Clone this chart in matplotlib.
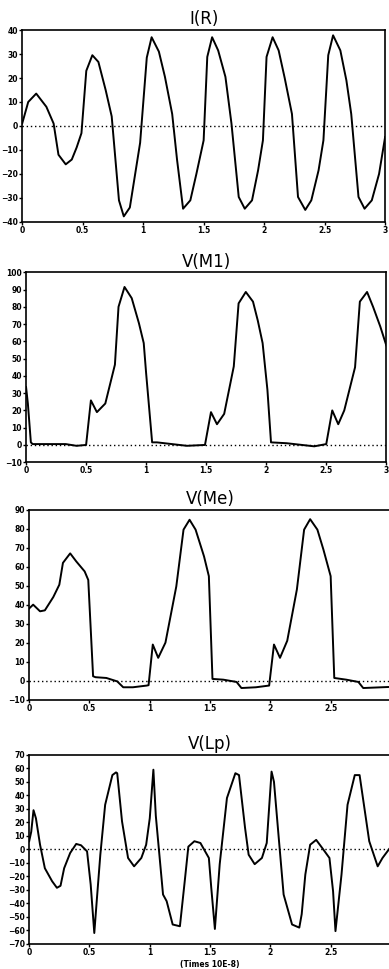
"""Four stacked transient waveforms: I(R), V(M1), V(Me), V(Lp)."""

import matplotlib
matplotlib.use("Agg")
import matplotlib.pyplot as plt

# time axis is in units of 10E-8 s
t_ir = [0, 0.05, 0.116, 0.2, 0.26, 0.30, 0.36, 0.41, 0.45, 0.49, 0.53, 0.58,
        0.63, 0.69, 0.74, 0.80, 0.84, 0.89, 0.975, 1.03, 1.07, 1.13, 1.18,
        1.24, 1.28, 1.33, 1.39, 1.44, 1.50, 1.53, 1.57, 1.62, 1.68, 1.73,
        1.79, 1.84, 1.90, 1.95, 1.99, 2.02, 2.07, 2.12, 2.17, 2.23, 2.28,
        2.34, 2.39, 2.45, 2.49, 2.53, 2.57, 2.63, 2.68, 2.72, 2.78, 2.83,
        2.89, 2.95, 3.0]
i_r = [1, 10, 13.5, 8, 1, -12, -16, -14, -9, -3, 23, 29.5,
       26.7, 15, 4, -31, -37.7, -34, -7, 28.5, 37, 31, 20.5,
       5, -14, -34.5, -31, -20, -6, 28.8, 37, 31.5, 20.5, 1,
       -29.6, -34.5, -31, -18.5, -6, 28.8, 37, 31.5, 20, 5, -29.6,
       -35, -31, -18.5, -6, 29.5, 37.8, 31.5, 19, 5, -29.6, -34.5,
       -31, -20, -4.6]

t_m1 = [0, 0.015, 0.04, 0.055, 0.33, 0.42, 0.50, 0.54, 0.59, 0.66, 0.74,
        0.77, 0.82, 0.88, 0.94, 0.98, 1.0, 1.05, 1.09, 1.34, 1.49, 1.54,
        1.59, 1.65, 1.73, 1.77, 1.83, 1.89, 1.93, 1.97, 2.01, 2.04, 2.17,
        2.40, 2.50, 2.55, 2.60, 2.65, 2.74, 2.78, 2.84, 2.89, 2.95, 3.0]
v_m1 = [33.5, 24, 1.5, 0.5, 0.5, -0.5, 0, 25.8, 19, 24, 46.5,
        80, 91.5, 85, 70.5, 59, 41.5, 1.5, 1.5, -0.5, 0, 19,
        12, 18, 45.5, 82, 88.6, 83, 72, 59, 32, 1.5, 1,
        -0.8, 0.5, 20, 12, 20, 45, 83, 88.6, 80, 68.6, 57.7]

t_me = [0, 0.033, 0.09, 0.13, 0.20, 0.25, 0.28, 0.34, 0.39, 0.46, 0.49,
        0.53, 0.55, 0.64, 0.73, 0.78, 0.86, 0.975, 0.99, 1.025, 1.07, 1.13,
        1.22, 1.28, 1.33, 1.38, 1.45, 1.49, 1.52, 1.61, 1.72, 1.76, 1.88,
        1.99, 2.03, 2.08, 2.14, 2.22, 2.28, 2.33, 2.39, 2.44, 2.50, 2.53,
        2.63, 2.73, 2.77, 3.0]
v_me = [38, 40, 36.5, 37, 44, 50.5, 62, 67, 62.8, 57.5, 53,
        2.3, 1.8, 1.4, -0.4, -3.5, -3.5, -2.6, -2.4, 19, 12, 20,
        49.6, 79.5, 84.7, 79.5, 65.4, 55, 0.9, 0.5, -0.7, -3.9, -3.5,
        -2.6, 19, 12, 21, 48, 79.5, 85, 79.5, 69, 55, 1.4,
        0.5, -0.7, -3.9, -3.3]

t_lp = [0, 0.017, 0.036, 0.056, 0.09, 0.13, 0.19, 0.23, 0.26, 0.29, 0.34,
        0.39, 0.43, 0.48, 0.51, 0.54, 0.56, 0.59, 0.63, 0.69, 0.72, 0.73,
        0.77, 0.82, 0.87, 0.93, 0.97, 1.0, 1.03, 1.05, 1.11, 1.14, 1.19,
        1.25, 1.29, 1.32, 1.37, 1.42, 1.49, 1.51, 1.54, 1.58, 1.64, 1.71,
        1.74, 1.79, 1.82, 1.87, 1.93, 1.97, 2.01, 2.03, 2.07, 2.11, 2.18,
        2.24, 2.26, 2.29, 2.33, 2.38, 2.43, 2.49, 2.52, 2.54, 2.59, 2.64,
        2.70, 2.74, 2.78, 2.82, 2.89, 2.93, 3.0]
v_lp = [6, 13, 29, 23, 3.5, -14, -23.6, -28.5, -27, -14, -2.7,
        4, 3, -1.5, -26, -62, -38.5, -4, 33, 55, 57, 56.4,
        20.7, -6.4, -12.6, -6.4, 3.4, 23, 59, 25, -33.5, -38.4, -55.7,
        -57, -23.6, 2, 6, 4.7, -6.4, -28.5, -59, -11, 38, 56.4,
        55, 16, -4, -11, -6.4, 4.7, 57.6, 50, 8, -33.5, -55.7,
        -58, -48, -18.7, 3.4, 7, 1, -6.4, -31, -60.6, -18.7, 33,
        55, 55, 30.5, 6, -12.6, -6.4, 2]

titles = ["I(R)", "V(M1)", "V(Me)", "V(Lp)"]
y_ranges = [(-40, 40), (-10, 100), (-10, 90), (-70, 70)]
x_ticks = [[0, 0.5, 1, 1.5, 2, 2.5, 3]] * 2 + [[0, 0.5, 1, 1.5, 2, 2.5]] * 2
x_label = "(Times 10E-8)"

# [left, bottom, width, height] in figure fractions
BOXES = [
    [0.057, 0.771, 0.933, 0.198],
    [0.067, 0.523, 0.926, 0.196],
    [0.075, 0.278, 0.93, 0.196],
    [0.075, 0.026, 0.93, 0.195],
]

fig = plt.figure(figsize=(3.89, 9.69), dpi=100)

series = [(t_ir, i_r), (t_m1, v_m1), (t_me, v_me), (t_lp, v_lp)]
for box, (t, v), title, (y0, y1), xt in zip(BOXES, series, titles,
                                            y_ranges, x_ticks):
    ax = fig.add_axes(box)
    ax.plot(t, v, color="black", lw=1.4)
    ax.axhline(0, color="black", lw=1.0, ls=(0, (1, 2)))
    ax.set_xlim(0, 3)
    ax.set_ylim(y0, y1)
    ax.set_xticks(xt)
    ax.set_xticklabels([f"{x:g}" for x in xt])
    ax.set_yticks(range(y0, y1 + 1, 10))
    ax.tick_params(length=2, width=1, pad=1, labelsize=5.5)
    for lab in ax.get_xticklabels() + ax.get_yticklabels():
        lab.set_fontweight("bold")
    for sp in ax.spines.values():
        sp.set_linewidth(1.2)
    ax.set_title(title, fontsize=12, pad=4)

ax.set_xlabel(x_label, fontsize=5.5, fontweight="bold", labelpad=2)

fig.savefig("out.png", dpi=100)
